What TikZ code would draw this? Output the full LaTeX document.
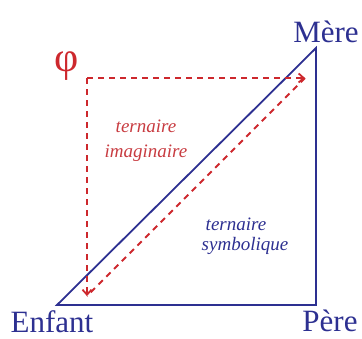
\documentclass[tikz,border=0pt]{standalone}
\usepackage{fontspec}
\setmainfont{Liberation Serif}
\usetikzlibrary{arrows.meta}
\definecolor{navy}{RGB}{45,48,145}
\definecolor{phired}{RGB}{205,40,45}
\definecolor{lblred}{RGB}{200,60,65}
\tikzset{
  tri/.style={draw=navy, line width=1.8pt, line join=miter},
  imag/.style={draw=phired, line width=1.8pt, dash pattern=on 6pt off 5pt},
  corner/.style={font=\fontsize{31}{31}\selectfont, text=navy, inner sep=0pt},
  lbl/.style={font=\fontsize{19}{23}\selectfont\itshape, align=center, inner sep=0pt},
  tip/.style={-{Straight Barb[length=5pt,width=9pt,line width=1.8pt]}}
}
\begin{document}
\begin{tikzpicture}[x=1pt,y=-1pt]
\useasboundingbox (0,0) rectangle (362,338);
\coordinate (E) at (57,305);
\coordinate (P) at (316,305);
\coordinate (M) at (316,48);
\coordinate (F) at (87,78);
\coordinate (Ft) at (305,78);
\coordinate (Fb) at (87,296);
\draw[tri] (E) -- (P) -- (M) -- cycle;
\draw[imag, tip] (F) -- (Ft);
\draw[imag, tip] (F) -- (Fb);
\draw[imag] (Ft) -- (Fb);
\node[corner, anchor=base] (mere) at (326,42) {Mère};
\node[corner, anchor=base] (enfant) at (52,332) {Enfant};
\node[corner, anchor=base] (pere) at (330,331) {Père};
\node[inner sep=0pt, text=phired, font=\fontsize{42}{42}\selectfont] (phi) at (67,66) {φ};
\node[lbl, text=lblred, anchor=base] (imt) at (146,132) {ternaire};
\node[lbl, text=lblred, anchor=base] (imi) at (146,157) {imaginaire};
\node[lbl, text=navy, anchor=base] (syt) at (236,230) {ternaire};
\node[lbl, text=navy, anchor=base] (sys) at (245,250) {symbolique};
\end{tikzpicture}
\end{document}
